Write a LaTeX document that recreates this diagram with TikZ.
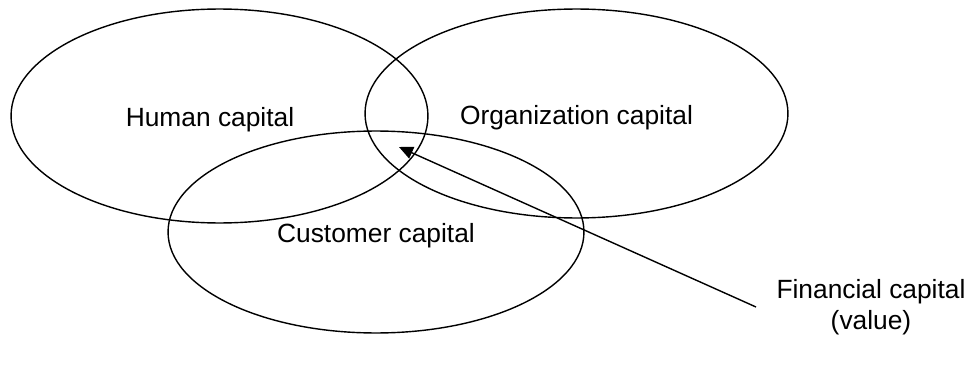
\documentclass[tikz,border=0pt]{standalone}
\usepackage{fontspec}
\setmainfont{Liberation Sans}
\usetikzlibrary{shapes.geometric,arrows.meta}
\tikzset{ venn/.style = { ellipse % capital ring
        , draw
        , line width = 0.8pt
        , inner sep = 0pt
        , outer sep = 0pt
        }
        , lbl/.style = { anchor = base % ring label
        , font = \fontsize{15pt}{17.6pt}\selectfont
        }
        }

\begin{document}
\begin{tikzpicture}[x=0.02cm, y=-0.02cm,
        pointer_style/.style={draw=black, line width=0.8pt, -{Triangle[length=0.28cm, width=0.25cm]}}]
        \useasboundingbox (0,0) rectangle (968,365);

        \node [venn, minimum width=8.34cm, minimum height=4.28cm] (human) at (219.5,116) {};
        \node [venn, minimum width=8.46cm, minimum height=4.18cm] (org) at (576.5,113.5) {};
        \node [venn, minimum width=8.32cm, minimum height=4.04cm] (cust) at (376,232) {};

        \node [lbl] (human_lbl) at (210,126) {Human capital};
        \node [lbl] (org_lbl) at (576.5,124) {Organization capital};
        \node [lbl] (cust_lbl) at (376,242) {Customer capital};
        \node [lbl, align=center] (fin_lbl) at (871,329) {Financial capital\\(value)};

        \coordinate (tail) at (756,307);
        \coordinate (tip) at (399,147);
        \draw [pointer_style] (tail) -- (tip);
\end{tikzpicture}
\end{document}
